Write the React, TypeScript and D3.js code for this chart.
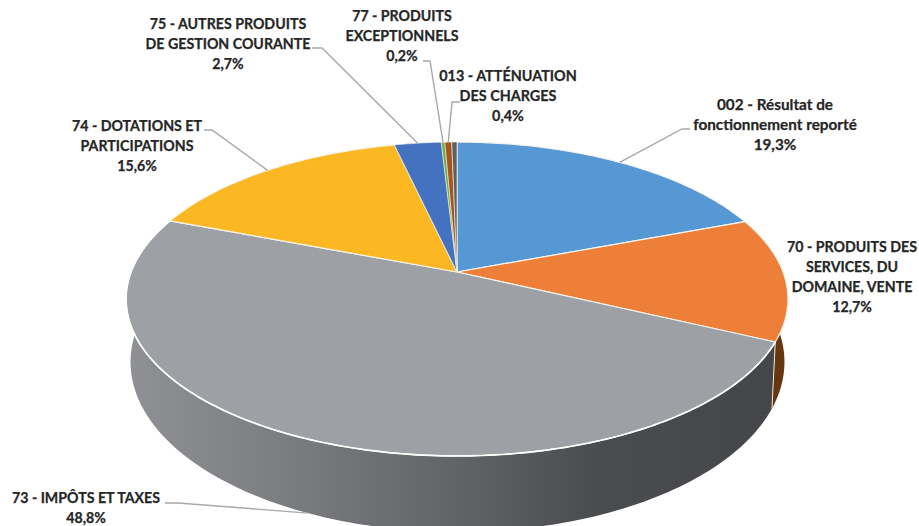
import * as d3 from "d3";

// values, clockwise from 12 o'clock
const sliceNames = ["002", "70", "73", "74", "75", "77", "013", "autres"];
const sliceValues = [19.3, 12.7, 48.8, 15.6, 2.7, 0.2, 0.4, 0.3];
const sliceColors = ["#5698d4", "#ee7f38", "#9da0a4", "#fcb822", "#4472c0", "#70ad47", "#a5561f", "#5f6063"];

const labelLines = [
  ["002 - Résultat de", "fonctionnement reporté", "19,3%"],
  ["70 - PRODUITS DES", "SERVICES, DU", "DOMAINE, VENTE", "12,7%"],
  ["73 - IMPÔTS ET TAXES", "48,8%"],
  ["74 - DOTATIONS ET", "PARTICIPATIONS", "15,6%"],
  ["75 - AUTRES PRODUITS", "DE GESTION COURANTE", "2,7%"],
  ["77 - PRODUITS", "EXCEPTIONNELS", "0,2%"],
  ["013 - ATTÉNUATION", "DES CHARGES", "0,4%"],
];

// label block: centre x, first baseline, font size
const labelAnchors: [number, number, number][] = [
  [775, 110, 15.3],
  [852, 252, 14.2],
  [86, 503, 14.2],
  [137, 131, 14.2],
  [228, 29, 14.2],
  [402, 21, 14.2],
  [508, 81, 14.4],
];
// leader start and elbow, null when the slice has no leader
const leaderElbows: ([number, number][] | null)[] = [
  [[690, 129], [682, 129]],
  null,
  [[165, 503], [178, 503]],
  [[204, 130], [212, 130]],
  [[312, 48], [322, 48]],
  [[423, 61], [430, 61]],
  [[460, 102], [452, 102]],
];

const W = 919;
const H = 526;

// Excel style perspective of the disc
const APEX_X = 457;
const APEX_Y = 272;
const A = 326;
const B = 152.3;
const K = 0.172;

function top(angle: number): [number, number] {
  const u = Math.sin(angle);
  const v = Math.cos(angle);
  const s = 1 / (1 + K * v);
  return [APEX_X + A * u * s, APEX_Y - B * v * s];
}

// lower rim of the wall
function bottom(angle: number): [number, number] {
  const [x, y] = top(angle);
  return [457.5 + (x - APEX_X) * 0.988, 362 + (y - 299) * 1.083];
}

function arcPoints(a0: number, a1: number, fn: (a: number) => [number, number]) {
  const n = Math.max(2, Math.ceil(Math.abs(a1 - a0) * 60));
  return d3.range(n + 1).map((i) => fn(a0 + ((a1 - a0) * i) / n));
}

const line = d3.line();

// wall as a run of quads, so the silhouette follows the rims at the sides
function wallPath(a0: number, a1: number) {
  const t = arcPoints(a0, a1, top);
  const b = arcPoints(a0, a1, bottom);
  return d3
    .range(t.length - 1)
    .map((i) => (line([t[i], t[i + 1], b[i + 1], b[i]]) as string) + "Z")
    .join("");
}

export default function App() {
  const arcs = d3.pie<number>().sort(null).startAngle(0).endAngle(2 * Math.PI)(sliceValues);

  const wallStops = [
    ["0%", "#8f9195"],
    ["25%", "#7b7c80"],
    ["50%", "#626467"],
    ["72%", "#4b4c4f"],
    ["100%", "#454649"],
  ];

  return (
    <svg
      width={W}
      height={H}
      style={{ position: "fixed", left: 0, top: 0, background: "#fff" }}
      fontFamily="Lato, 'Open Sans', sans-serif"
    >
      <defs>
        <linearGradient id="wall-gray" gradientUnits="userSpaceOnUse" x1={128} x2={775} y1={0} y2={0}>
          {wallStops.map(([o, c]) => (
            <stop key={o} offset={o} stopColor={c} />
          ))}
        </linearGradient>
      </defs>

      {/* walls, only the orange and grey ones show */}
      {arcs.map((d, i) => {
        if (i !== 1 && i !== 2) return null;
        return (
          <path
            key={sliceNames[i]}
            d={wallPath(d.startAngle, d.endAngle)}
            fill={i === 2 ? "url(#wall-gray)" : "#66360f"}
          />
        );
      })}
      {/* seam between the two walls */}
      <path
        d={line([top(arcs[2].startAngle), bottom(arcs[2].startAngle)]) as string}
        stroke="#e9e6df"
        strokeWidth={1}
        fill="none"
      />

      {/* top faces */}
      {arcs.map((d, i) => {
        const pts = [[APEX_X, APEX_Y] as [number, number], ...arcPoints(d.startAngle, d.endAngle, top)];
        return (
          <path
            key={sliceNames[i]}
            d={(line(pts) as string) + "Z"}
            fill={sliceColors[i]}
            stroke="#f5f3ec"
            strokeWidth={i > 3 ? 0.6 : 1.2}
            strokeLinejoin="round"
          />
        );
      })}
      {/* white rim along the front of the grey slice */}
      <path
        d={line(arcPoints(arcs[2].startAngle, arcs[2].endAngle, top)) as string}
        fill="none"
        stroke="#fff"
        strokeWidth={1.7}
      />

      {/* leader lines */}
      {leaderElbows.map((elbow, i) => {
        if (!elbow) return null;
        const mid = (arcs[i].startAngle + arcs[i].endAngle) / 2;
        const end = i === 2 ? bottom(mid) : top(mid);
        return (
          <path
            key={i}
            d={line([...elbow, end]) as string}
            fill="none"
            stroke="#a6a8ab"
            strokeWidth={1.4}
          />
        );
      })}

      {/* labels */}
      {labelLines.map((lines, i) => (
        <text
          key={i}
          x={labelAnchors[i][0]}
          y={labelAnchors[i][1]}
          textAnchor="middle"
          fontSize={labelAnchors[i][2]}
          fontWeight={700}
          fill="#262626"
          stroke="#262626"
          strokeWidth={0.25}
        >
          {lines.map((t, j) => (
            <tspan key={j} x={labelAnchors[i][0]} dy={j === 0 ? 0 : 20}>
              {t}
            </tspan>
          ))}
        </text>
      ))}
    </svg>
  );
}
